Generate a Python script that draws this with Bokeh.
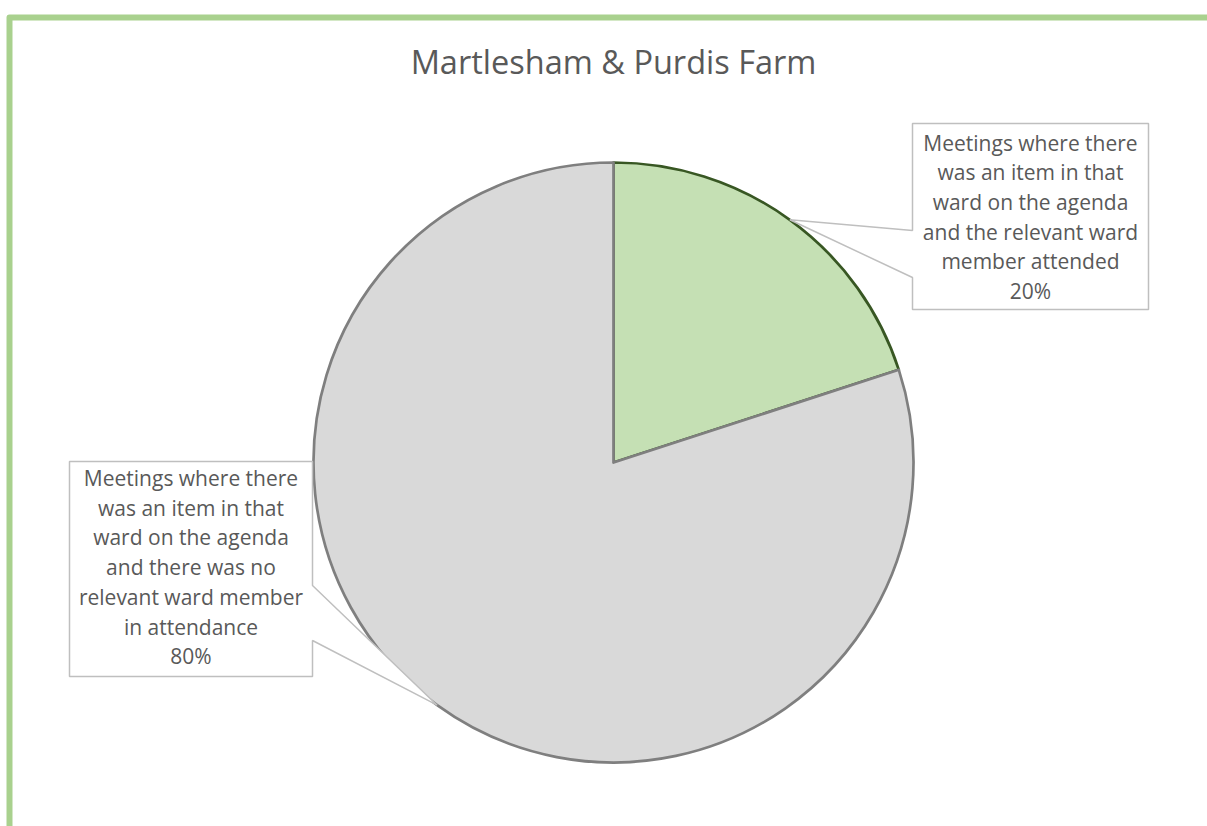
import numpy as np
from bokeh.plotting import figure
from bokeh.models import Range1d
from bokeh.core.properties import value
from bokeh.embed import file_html
from bokeh.resources import INLINE

# ---- data ----
title_text = "Martlesham & Purdis Farm"
categories = [
    "Meetings where there was an item in that ward on the agenda and the relevant ward member attended",
    "Meetings where there was an item in that ward on the agenda and there was no relevant ward member in attendance",
]
shares = [20, 80]
label_lines = [
    ["Meetings where there", "was an item in that", "ward on the agenda",
     "and the relevant ward", "member attended", "20%"],
    ["Meetings where there", "was an item in that", "ward on the agenda",
     "and there was no", "relevant ward member", "in attendance", "80%"],
]
fill_colors = ["#c5e0b4", "#d9d9d9"]
line_colors = ["#385723", "#7f7f7f"]

# ---- layout (page pixel coordinates) ----
W, H = 1207, 826
def X(px):
    return px
def Y(py):
    return H - py

cx, cy, R = 613, 462, 300
TEXT_COLOR = "#595959"
FONT = "Open Sans"

p = figure(width=W, height=H, output_backend="svg", toolbar_location=None,
           x_range=Range1d(0, W), y_range=Range1d(0, H), min_border=0,
           border_fill_color="white", background_fill_color="white")
p.axis.visible = False
p.grid.visible = False
p.outline_line_color = None

# frame (green border, top and left visible)
p.line([X(9), X(9), X(1240)], [Y(900), Y(17), Y(17)], line_color="#a9d18e",
       line_width=6, line_join="round")

# title
p.text([X(613)], [Y(61)], text=[title_text], text_font=value(FONT),
       text_font_size="32.5px", text_color=TEXT_COLOR, text_align="center",
       text_baseline="alphabetic")

# pie
vals = np.array(shares, dtype=float)
frac = vals / vals.sum()
cum = np.concatenate([[0], np.cumsum(frac)])
ends = np.pi / 2 - cum[:-1] * 2 * np.pi
starts = np.pi / 2 - cum[1:] * 2 * np.pi
mids = (starts + ends) / 2

for i in range(len(vals)):
    p.wedge(x=[X(cx)], y=[Y(cy)], radius=R, start_angle=[starts[i]],
            end_angle=[ends[i]], direction="anticlock",
            fill_color=fill_colors[i], line_color=line_colors[i],
            line_width=2.7, line_join="round")

# callouts
boxes = [
    dict(l=912, r=1148, t=123, b=309, side="left", g0=230, g1=277),
    dict(l=69, r=312, t=461, b=676, side="right", g0=585, g1=640),
]
for i, bx in enumerate(boxes):
    ax = cx + R * np.cos(mids[i])
    ay = cy - R * np.sin(mids[i])
    l, r, t, b = bx["l"], bx["r"], bx["t"], bx["b"]
    if bx["side"] == "left":
        pts = [(l, t), (r, t), (r, b), (l, b), (l, bx["g1"]), (ax, ay), (l, bx["g0"])]
    else:
        pts = [(l, t), (r, t), (r, bx["g0"]), (ax, ay), (r, bx["g1"]), (r, b), (l, b)]
    p.patch([X(a) for a, _ in pts], [Y(c) for _, c in pts], fill_color="white",
            line_color="#bfbfbf", line_width=1.5)
    lines = label_lines[i]
    first = t + 19 if i == 0 else t + 16.5
    ys = [first + k * 29.7 for k in range(len(lines))]
    xc = (l + r) / 2
    p.text([X(xc)] * len(lines), [Y(v) for v in ys], text=lines,
           text_font=value(FONT), text_font_size="21px", text_color=TEXT_COLOR,
           text_align="center", text_baseline="alphabetic")

open("out.html", "w").write(file_html(p, INLINE))
